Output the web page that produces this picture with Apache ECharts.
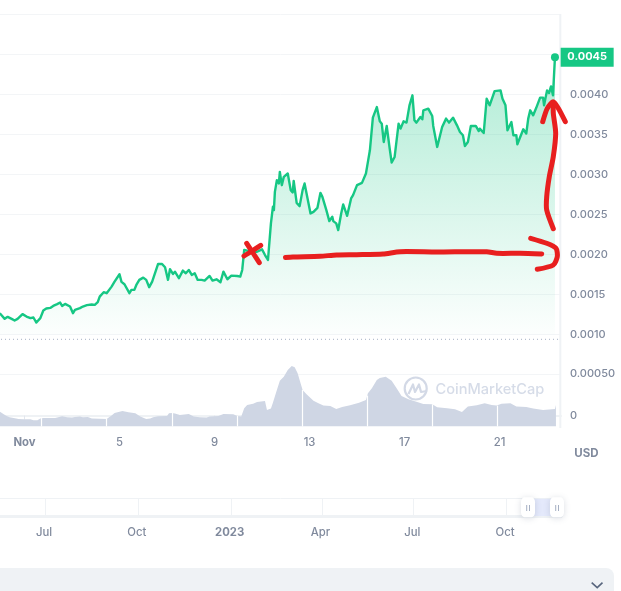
<!DOCTYPE html>
<html>
<head>
<meta charset="utf-8">
<style>html,body{margin:0;padding:0;background:#fff;overflow:hidden}#c{width:621px;height:591px}</style>
<script src="https://cdn.jsdelivr.net/npm/echarts@6/dist/echarts.min.js"></script>
</head>
<body>
<div id="c"></div>
<script>
// Hours since 1 Nov 00:00 (UTC)
const priceHours = [-25,-23,-20,-17,-13,-10,-7,-5,-2,2,6,9,12,14,16,19,22,26,29,33,36,38,41,43,46,49,51,53,56,59,63,68,71,74,76,80,83,88,91,93,96,98,101,106,108,111,113,116,120,123,126,129,131,135,139,142,144,145,147,150,152,154,156,160,163,166,169,172,175,179,182,187,190,194,198,201,205,209,215,218,220,222,225,230,235,240,243,246,249,251,252,253,255,257,258,260,262,266,269,271,272,275,278,281,283,285,289,292,296,299,301,305,306,308,311,312,315,317,320,322,326,330,332,336,341,342,345,347,349,352,354,356,358,359,361,363,366,369,371,374,378,380,383,386,389,392,394,396,400,402,403,408,412,413,415,417,419,422,426,429,433,437,440,443,445,448,451,456,459,460,464,467,470,472,475,481,483,486,488,492,494,497,498,504,507,509,511,514,517,519,521,524,525,528,530,532,534,536];
const priceValues = [0.001264,0.001243,0.001193,0.001218,0.001193,0.001172,0.001193,0.001193,0.001252,0.001222,0.001202,0.00121,0.001147,0.001156,0.001202,0.001297,0.001322,0.00133,0.001355,0.001377,0.001397,0.001355,0.00138,0.001397,0.001347,0.001264,0.001305,0.001293,0.001327,0.001347,0.001364,0.001372,0.001368,0.001402,0.001471,0.001526,0.001514,0.001596,0.001658,0.00168,0.001751,0.001655,0.001626,0.001514,0.001555,0.001555,0.001617,0.00168,0.001708,0.00168,0.001589,0.001658,0.00168,0.001879,0.001879,0.001838,0.001825,0.00168,0.001813,0.001754,0.001783,0.001763,0.001701,0.001796,0.001763,0.001804,0.001742,0.001763,0.00168,0.00168,0.001671,0.001729,0.001671,0.001688,0.001651,0.001783,0.001688,0.001733,0.001729,0.001721,0.001804,0.002054,0.002045,0.002032,0.002032,0.002062,0.001991,0.001929,0.002387,0.002594,0.002552,0.00278,0.002927,0.002885,0.00303,0.002864,0.002968,0.00301,0.002802,0.002773,0.002918,0.002643,0.002602,0.002802,0.002885,0.002885,0.002511,0.002531,0.002581,0.002768,0.002718,0.002552,0.002561,0.002415,0.002469,0.002415,0.002387,0.002303,0.002511,0.002623,0.002481,0.002698,0.002739,0.002864,0.002893,0.002885,0.00301,0.003155,0.0033,0.003708,0.003708,0.00384,0.003853,0.003662,0.003633,0.003404,0.003604,0.003322,0.003147,0.003217,0.003633,0.003571,0.003662,0.003646,0.003862,0.003987,0.003675,0.003646,0.003716,0.003687,0.0038,0.003821,0.003728,0.003604,0.003621,0.003342,0.00335,0.003591,0.003696,0.003646,0.003708,0.003612,0.003529,0.003488,0.003354,0.003404,0.003604,0.003604,0.003541,0.003571,0.003516,0.003945,0.003862,0.00384,0.00404,0.004049,0.003945,0.003862,0.00355,0.003653,0.003488,0.003488,0.003375,0.003563,0.00351,0.003696,0.0038,0.003738,0.003828,0.00384,0.003958,0.003958,0.003862,0.004049,0.004015,0.004099,0.003987,0.004464];

const volumeHours = [-25,-23,-21,-18,-15,-11,-6,-4,-1,6,9,13,16,19,31,33,38,43,48,51,56,59,64,68,83,85,88,91,95,99,105,112,117,123,127,130,135,144,146,149,152,157,166,171,177,184,187,196,201,211,215,219,222,225,231,235,243,245,249,251,255,258,262,266,270,273,276,278,281,285,292,297,302,309,315,321,329,338,345,347,351,356,359,365,371,376,381,388,396,403,412,417,427,435,442,448,457,465,472,477,482,491,497,507,514,524,536,537];
const volumeValues = [0.000048,0.00004,0.000016,-0.000004,-0.00002,-0.000028,-0.00004,-0.000032,-0.000044,-0.000044,-0.000056,-0.000056,-0.000036,-0.000028,-0.000028,-0.000016,-0.000008,-0.00002,-0.000024,-0.000016,-0.000012,-0.00002,-0.000016,-0.000036,-0.00004,-0.000036,0,0.000032,0.000044,0.000056,0.00004,0.000028,-0.000012,-0.00004,-0.000036,-0.00002,-0.000008,-0.000004,0.000028,0.000032,0.000024,0.000008,0.00002,-0.000012,-0.00002,-0.000024,-0.000012,-0.000004,0.00002,0.000016,-0.000004,-0.000012,0.000088,0.000128,0.000144,0.000164,0.000176,0.000068,0.000084,0.000156,0.000308,0.00042,0.000468,0.000548,0.000596,0.00058,0.000508,0.000428,0.000308,0.000256,0.00018,0.000148,0.00012,0.000116,0.00008,0.000104,0.000124,0.000156,0.000188,0.000268,0.000328,0.000428,0.000452,0.000468,0.00042,0.000328,0.000236,0.000196,0.000168,0.00014,0.000136,0.0001,0.000088,0.000076,0.000044,0.000108,0.000124,0.000148,0.000128,0.00012,0.000144,0.000148,0.000108,0.000104,0.000084,0.000068,0.00008,0.000128];
const volumeGapHours = [17,83,149,215,281,346,412,478];
const volumeGapTops = [-0.00003,-0.00004,0.000032,-0.000004,0.000308,0.00024,0.000136,0.00012];

const dayTickHours = [0,96,192,288,384,480];
const dayTickLabels = ['Nov','5','9','13','17','21'];
const priceLabelTicks = [0.001,0.0015,0.002,0.0025,0.003,0.0035,0.004];
const volumeLabelTicks = [0,0.0005];
const volumeLabels = ['0','0.00050'];
const lastPriceLabel = '0.0045';

// Days since 1 Nov for the overview strip
const overviewTickDays = [-488,-396,-304,-214,-123,-31];
const overviewTickLabels = ['Jul','Oct','2023','Apr','Jul','Oct'];
const rangeDays = [-9.7,19];

const GREEN='#16c784', GREY='#808a9d', LINE='#eff2f5', GRID='#f3f5f7', RED='#e81f1f', VOL='#cfd6e4';
const FONT='Inter';

const stroke=(pts,extra)=>({type:'polyline',z:100,silent:true,shape:{points:pts,smooth:0.25},
  style:Object.assign({stroke:RED,lineWidth:5,lineCap:'round',lineJoin:'round',fill:null},extra||{})});

const chart=echarts.init(document.getElementById('c'),null,{renderer:'canvas'});
chart.setOption({
  animation:false,
  backgroundColor:'#fff',
  textStyle:{fontFamily:FONT},
  grid:[
    {left:0,width:561,top:14.3,height:320},
    {left:0,width:561,top:339,height:87.5},
    {left:0,width:561,top:498.5,height:17.5}
  ],
  xAxis:[
    {type:'value',gridIndex:0,min:-24.76,max:542.1,show:false},
    {type:'value',gridIndex:1,min:-24.76,max:542.1,
     axisLine:{show:true,lineStyle:{color:LINE,width:2}},
     axisTick:{show:true,customValues:dayTickHours,length:4,lineStyle:{color:'#e3e7ee'}},
     splitLine:{show:false},
     axisLabel:{customValues:dayTickHours,margin:10.7,color:GREY,fontSize:11.3,fontWeight:500,fontFamily:FONT,
       formatter:v=>{const i=dayTickHours.indexOf(v);return i===0?'{b|'+dayTickLabels[i]+'}':dayTickLabels[i];},
       rich:{b:{fontWeight:700,color:GREY,fontSize:11.3,fontFamily:FONT}}}},
    {type:'value',gridIndex:2,min:-533.1,max:23,
     axisLine:{show:true,lineStyle:{color:LINE,width:3}},
     axisTick:{show:false,customValues:overviewTickDays},
     splitLine:{show:true,lineStyle:{color:LINE,width:1}},
     axisLabel:{customValues:overviewTickDays,margin:10.7,padding:[0,3,0,0],color:GREY,fontSize:11.3,fontWeight:500,fontFamily:FONT,
       formatter:v=>{const i=overviewTickDays.indexOf(v);return overviewTickLabels[i]==='2023'?'{b|2023}':overviewTickLabels[i];},
       rich:{b:{fontWeight:700,color:GREY,fontSize:11.3,fontFamily:FONT}}}}
  ],
  yAxis:[
    {type:'value',gridIndex:0,position:'right',min:0.001,max:0.005,interval:0.0005,
     axisLine:{show:false},axisTick:{show:false},
     splitLine:{show:true,lineStyle:{color:GRID,width:1}},
     axisLabel:{customValues:priceLabelTicks,margin:9,padding:[0,0,2,0],color:GREY,fontSize:11,fontWeight:500,fontFamily:FONT,
       formatter:v=>v.toFixed(4)}},
    {type:'value',gridIndex:1,position:'right',min:-0.000131,max:0.000921,
     axisLine:{show:false},axisTick:{show:false,customValues:volumeLabelTicks},
     splitLine:{show:true,lineStyle:{color:GRID,width:1}},
     axisLabel:{customValues:volumeLabelTicks,margin:9,padding:[0,0,2,0],color:GREY,fontSize:11,fontWeight:500,fontFamily:FONT,
       formatter:v=>volumeLabels[volumeLabelTicks.indexOf(v)]}},
    {type:'value',gridIndex:2,min:0,max:1,interval:1,show:true,
     axisLine:{show:false},axisTick:{show:false},axisLabel:{show:false},
     splitLine:{show:true,lineStyle:{color:LINE,width:1}}}
  ],
  series:[
    {type:'line',name:'Volume',xAxisIndex:1,yAxisIndex:1,z:2,showSymbol:false,silent:true,
     data:volumeHours.map((h,i)=>[h,volumeValues[i]]),
     lineStyle:{width:0},areaStyle:{color:VOL,opacity:1,origin:'start'},
     markLine:{silent:true,symbol:'none',label:{show:false},animation:false,
       lineStyle:{color:'#fff',width:1.2,type:'solid'},
       data:volumeGapHours.map((h,i)=>[{coord:[h,-0.000131]},{coord:[h,volumeGapTops[i]]}])}},
    {type:'line',name:'Price',xAxisIndex:0,yAxisIndex:0,z:3,showSymbol:false,silent:true,
     data:priceHours.map((h,i)=>[h,priceValues[i]]),
     lineStyle:{color:GREEN,width:2.4,join:'round'},
     areaStyle:{origin:'start',opacity:1,color:new echarts.graphic.LinearGradient(0,0,0,1,[
       {offset:0,color:'rgba(22,199,132,0.34)'},{offset:1,color:'rgba(22,199,132,0.01)'}])}},
    {type:'scatter',name:'Last',xAxisIndex:0,yAxisIndex:0,z:5,silent:true,symbolSize:8,
     itemStyle:{color:GREEN,opacity:1},
     data:[[priceHours[priceHours.length-1],priceValues[priceValues.length-1]]],
     label:{show:true,position:'right',distance:1.7,formatter:()=>'{a|'+lastPriceLabel+'}',
       rich:{a:{color:'#fff',fontSize:11,fontWeight:700,fontFamily:FONT,backgroundColor:GREEN,width:53,height:19,lineHeight:19,align:'center',verticalAlign:'middle'}}}},
    {type:'line',name:'Range',xAxisIndex:2,yAxisIndex:2,z:2,showSymbol:false,silent:true,
     data:rangeDays.map(d=>[d,1]),lineStyle:{width:0},areaStyle:{color:'#e4e9fb',origin:'start',opacity:1}},
    {type:'scatter',name:'Handles',xAxisIndex:2,yAxisIndex:2,z:4,silent:true,clip:false,
     symbol:'roundRect',symbolSize:[14,20],
     data:rangeDays.map(d=>[d,0.5]),
     itemStyle:{color:'#fff',opacity:1,shadowBlur:6,shadowColor:'rgba(88,102,126,0.22)',shadowOffsetY:1}}
  ],
  graphic:[
    {type:'rect',z:1,silent:true,shape:{x:559.3,y:14,width:2,height:414},style:{fill:LINE}},
    {type:'line',z:6,silent:true,shape:{x1:1,y1:339.3,x2:558,y2:339.3},style:{stroke:'#a6b0c3',lineWidth:1,lineDash:[1,3]}},
    // watermark
    {type:'circle',z:6,silent:true,shape:{cx:415.7,cy:388.5,r:11},style:{stroke:'#d3d9e6',lineWidth:2.2,fill:null}},
    {type:'polyline',z:6,silent:true,shape:{points:[[408.5,394],[413,384.5],[415,392],[419,384.5],[421,392],[427,391]]},style:{stroke:'#d3d9e6',lineWidth:2.2,fill:null,lineJoin:'round'}},
    {type:'text',z:6,silent:true,style:{x:435.5,y:390,text:'CoinMarketCap',font:'500 14.6px Inter',fill:'#d6dce8',verticalAlign:'middle',align:'left'}},
    {type:'text',z:6,silent:true,style:{x:586.5,y:453.5,text:'USD',font:'700 11.5px Inter',fill:GREY,align:'center',verticalAlign:'middle'}},
    // range handle grips
    {type:'rect',z:8,silent:true,shape:{x:526.2,y:505,width:1,height:6},style:{fill:'#a6b0c3'}},
    {type:'rect',z:8,silent:true,shape:{x:529,y:505,width:1,height:6},style:{fill:'#a6b0c3'}},
    {type:'rect',z:8,silent:true,shape:{x:555.2,y:505,width:1,height:6},style:{fill:'#a6b0c3'}},
    {type:'rect',z:8,silent:true,shape:{x:558,y:505,width:1,height:6},style:{fill:'#a6b0c3'}},
    // bottom panel
    {type:'rect',z:1,silent:true,shape:{x:-12,y:568,width:626,height:40,r:8},style:{fill:'#eff2f5'}},
    {type:'polyline',z:2,silent:true,shape:{points:[[591.7,582.7],[597.2,587.7],[602.5,582.7]]},style:{stroke:'#58667e',lineWidth:1.6,fill:null}},
    // hand-drawn annotations
    stroke([[244,256],[252,251],[260.7,245.3]]),
    stroke([[246.7,243.3],[253,253],[259.3,262.7]]),
    stroke([[285.5,257.5],[293,257],[320,256.2],[336.7,255],[356.7,254.7],[383,254],[400,251.7],[436.7,252],[486.7,251.7],[496.7,253.3],[520,253.3],[541.7,254]]),
    stroke([[530.7,238.3],[546.7,243.3],[556,248.3],[557.3,256.7],[553.3,265],[537.3,269.3]]),
    stroke([[553.3,228.7],[546.7,210],[546.7,196.7],[549.3,176.7],[553.3,156.7],[555.7,133.3],[553.3,113.3],[553.3,103.3]]),
    stroke([[542.7,121.7],[547.3,108.3],[553.3,101.7],[558.3,108.3],[565.3,121.7]])
  ]
});
</script>
</body>
</html>
